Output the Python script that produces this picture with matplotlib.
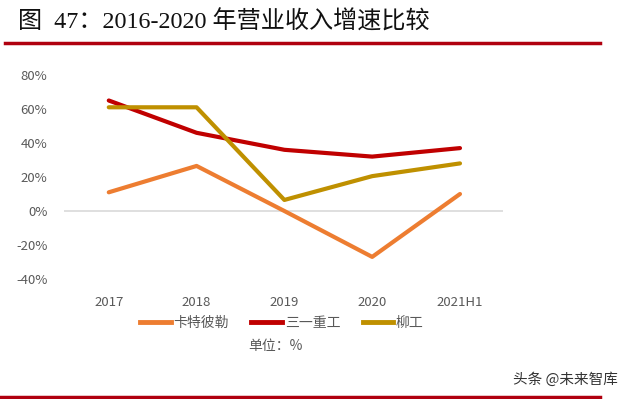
import matplotlib.pyplot as plt
import numpy as np
from matplotlib.lines import Line2D

plt.rcParams['font.family'] = ['Noto Sans CJK SC', 'DejaVu Sans']

years = ['2017', '2018', '2019', '2020', '2021H1']
caterpillar = [11, 26.5, 0, -27, 10]
sany = [65, 46, 36, 32, 37]
liugong = [61, 61, 6.5, 20.5, 28]
names = ['卡特彼勒', '三一重工', '柳工']
colors = ['#ED7D31', '#C00000', '#BF9000']

fig = plt.figure(figsize=(6.28, 3.99), dpi=100)
ax = fig.add_axes([64 / 628, 1 - 279 / 399, (503 - 64) / 628, (279 - 75) / 399])

x = np.arange(len(years))
for vals, c in zip([caterpillar, sany, liugong], colors):
    ax.plot(x, vals, color=c, lw=3.0, solid_capstyle='round', solid_joinstyle='round')

ax.axhline(0, color='#D9D9D9', lw=1.2, zorder=0)
ax.set_ylim(-40, 80)
ax.set_xlim(-0.51, 4.49)
ax.set_yticks(range(-40, 81, 20))
ax.set_yticklabels([f'{v}%' for v in range(-40, 81, 20)])
ax.set_xticks(x)
ax.set_xticklabels(years)
for s in ax.spines.values():
    s.set_visible(False)
ax.tick_params(length=0, colors='#595959', labelsize=9.5)
ax.tick_params(axis='y', pad=12)
ax.tick_params(axis='x', pad=12)

handles = [Line2D([], [], color=c, lw=3.5) for c in colors]
fig.legend(handles, names, loc='center', bbox_to_anchor=(282 / 628, 1 - 323 / 399),
           ncol=3, frameon=False, fontsize=10, handlelength=2.2, handletextpad=0.2,
           columnspacing=1.6, labelcolor='#595959')
fig.text(275 / 628, 1 - 346 / 399, '单位：%', ha='center', va='center', fontsize=10, color='#595959')

fig.text(18 / 628, 1 - 22 / 399, '图  47：2016-2020 年营业收入增速比较', ha='left', va='center',
         fontsize=17.4, color='#111111', family=['Liberation Serif', 'Noto Sans CJK SC'])
fig.add_artist(Line2D([5 / 628, 600 / 628], [1 - 43 / 399, 1 - 43 / 399], color='#B0000F', lw=2.5))
fig.add_artist(Line2D([0, 600 / 628], [1 - 397 / 399, 1 - 397 / 399], color='#B0000F', lw=2.5))
fig.text(618 / 628, 1 - 380 / 399, '头条 @未来智库', ha='right', va='center', fontsize=10.5, color='#333333')

fig.savefig('out.png', dpi=100)
